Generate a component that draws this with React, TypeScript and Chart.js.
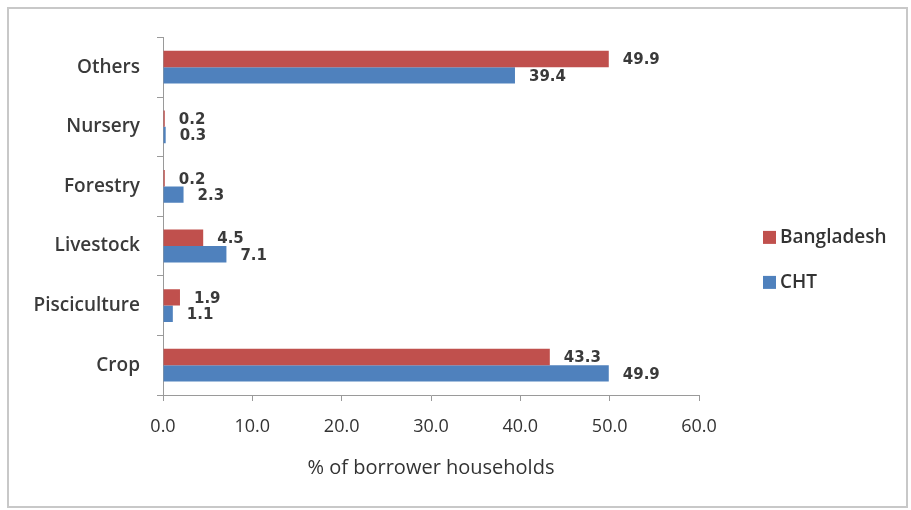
import React, { useEffect, useRef } from 'react';
import { Chart, registerables } from 'chart.js';

Chart.register(...registerables);

const categories = ['Others', 'Nursery', 'Forestry', 'Livestock', 'Pisciculture', 'Crop'];
const bangladesh = [49.9, 0.2, 0.2, 4.5, 1.9, 43.3];
const cht = [39.4, 0.3, 2.3, 7.1, 1.1, 49.9];
const seriesNames = ['Bangladesh', 'CHT'];
const seriesColors = ['#C0504D', '#4F81BD'];
const xMin = 0;
const xMax = 60;
const xStep = 10;
const xTitle = '% of borrower households';

const valueLabels = {
  id: 'valueLabels',
  afterDatasetsDraw(chart: any) {
    const ctx = chart.ctx;
    ctx.save();
    ctx.font = 'bold 15px "DejaVu Sans"';
    ctx.fillStyle = '#3a3a3a';
    ctx.textBaseline = 'middle';
    ctx.textAlign = 'left';
    chart.data.datasets.forEach((ds: any, i: number) => {
      const meta = chart.getDatasetMeta(i);
      meta.data.forEach((bar: any, j: number) => {
        const v = ds.data[j];
        ctx.fillText(Number(v).toFixed(1), bar.x + 14, bar.y + 1.5);
      });
    });
    ctx.restore();
  },
};

const sideLegend = {
  id: 'sideLegend',
  afterDraw(chart: any) {
    const ctx = chart.ctx;
    const area = chart.chartArea;
    ctx.save();
    ctx.font = '600 19px "Open Sans"';
    ctx.textBaseline = 'middle';
    ctx.textAlign = 'left';
    const ys = [area.top + 200, area.top + 245];
    chart.data.datasets.forEach((ds: any, i: number) => {
      const y = ys[i];
      ctx.fillStyle = ds.backgroundColor;
      ctx.fillRect(area.right + 64, y - 6.5, 13, 13);
      ctx.fillStyle = '#333333';
      ctx.fillText(ds.label, area.right + 81, y);
    });
    ctx.restore();
  },
};

function BarChart() {
  const canvasRef = useRef<HTMLCanvasElement | null>(null);

  useEffect(() => {
    if (!canvasRef.current) return;
    const chart = new Chart(canvasRef.current, {
      type: 'bar',
      data: {
        labels: categories,
        datasets: [
          {
            label: seriesNames[0],
            data: bangladesh,
            backgroundColor: seriesColors[0],
            categoryPercentage: 0.55,
            barPercentage: 1,
          },
          {
            label: seriesNames[1],
            data: cht,
            backgroundColor: seriesColors[1],
            categoryPercentage: 0.55,
            barPercentage: 1,
          },
        ],
      },
      options: {
        indexAxis: 'y',
        animation: false,
        responsive: true,
        maintainAspectRatio: false,
        layout: { padding: { left: 0, top: 26, right: 207, bottom: 0 } },
        plugins: {
          legend: { display: false },
          tooltip: { enabled: false },
        },
        scales: {
          x: {
            min: xMin,
            max: xMax,
            afterFit(scale: any) {
              scale.height = 111;
            },
            ticks: {
              stepSize: xStep,
              callback: (v: any) => Number(v).toFixed(1),
              font: { family: '"Open Sans"', size: 18 },
              color: '#333333',
              padding: 15,
            },
            grid: {
              drawOnChartArea: false,
              tickLength: 6,
              color: '#9a9a9a',
            },
            border: { display: true, color: '#9a9a9a', width: 1 },
            title: {
              display: true,
              text: xTitle,
              font: { family: '"Open Sans"', size: 20 },
              color: '#333333',
              padding: { top: 4, bottom: 26 },
            },
          },
          y: {
            afterFit(scale: any) {
              scale.width = 154;
            },
            ticks: {
              font: { family: '"Open Sans"', size: 19, weight: '600' },
              color: '#3a3a3a',
              padding: 17,
            },
            grid: {
              drawOnChartArea: false,
              tickLength: 6,
              color: '#9a9a9a',
              offset: true,
            },
            border: { display: true, color: '#9a9a9a', width: 1 },
          },
        },
      },
      plugins: [valueLabels, sideLegend],
    });
    return () => chart.destroy();
  }, []);

  return (
    <div
      style={{
        position: 'absolute',
        left: 7,
        top: 7,
        width: 901,
        height: 501,
        border: '2px solid #c8c8c8',
        boxSizing: 'border-box',
        background: '#ffffff',
      }}
    >
      <div style={{ position: 'relative', width: 897, height: 497 }}>
        <canvas ref={canvasRef} />
      </div>
    </div>
  );
}

export default function App() {
  return <BarChart />;
}
